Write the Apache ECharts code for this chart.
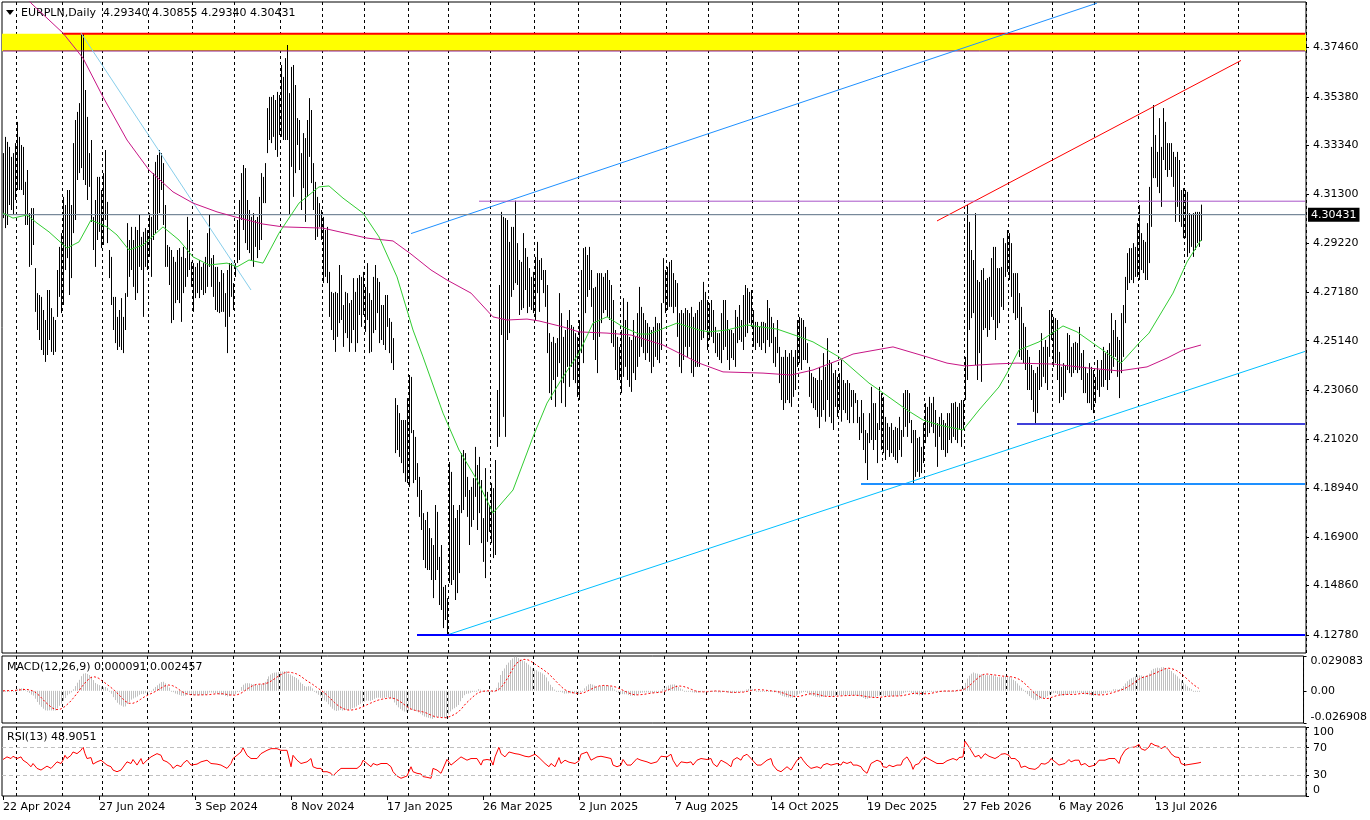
<!DOCTYPE html>
<html><head><meta charset="utf-8">
<script src="https://cdn.jsdelivr.net/npm/echarts@6.0.0/dist/echarts.min.js"></script>
<style>html,body{margin:0;padding:0;background:#fff}#c{width:1370px;height:820px}</style>
</head><body><div id="c"></div>
<script>
const symbolTitle = 'EURPLN,Daily';
const lastBar = {open: 4.29340, high: 4.30855, low: 4.29340, close: 4.30431};
const macdLegend = 'MACD(12,26,9) 0.000091 0.002457';
const rsiLegend = 'RSI(13) 48.9051';
const tickLabels = ['22 Apr 2024','27 Jun 2024','3 Sep 2024','8 Nov 2024','17 Jan 2025','26 Mar 2025','2 Jun 2025','7 Aug 2025','14 Oct 2025','19 Dec 2025','27 Feb 2026','6 May 2026','13 Jul 2026'];
const priceTicks = [4.12780,4.14860,4.16900,4.18940,4.21020,4.23060,4.25140,4.27180,4.29220,4.31300,4.33340,4.35380,4.37460];
const macdTicks = [-0.026908, 0, 0.029083];
const rsiTicks = [0, 30, 70, 100];
const rsiLevels = [30, 70];

const highs = [
4.3302,4.3370,4.3349,4.3328,4.3286,4.3302,4.3344,4.3433,4.3370,4.3336,
4.3328,4.3181,4.3231,4.3050,4.3071,4.3071,4.2819,4.2714,4.2706,4.2698,
4.2643,4.2601,4.2727,4.2727,4.2651,4.2614,4.2601,4.2811,4.2908,4.2966,
4.3118,4.3084,4.3147,4.3147,4.3084,4.3344,4.3441,4.3475,4.3512,4.3806,
4.3806,4.3567,4.3454,4.3302,4.3357,4.3034,4.3105,4.3202,4.3202,4.3147,
4.3218,4.3315,4.3097,4.2895,4.2866,4.2698,4.2698,4.2614,4.2643,4.2693,
4.2614,4.2714,4.3008,4.2937,4.2992,4.2937,4.2992,4.2979,4.3042,4.2950,
4.2971,4.2987,4.2979,4.3050,4.3034,4.3218,4.3265,4.3294,4.3315,4.3302,
4.3260,4.3084,4.2916,4.2908,4.2895,4.2866,4.2845,4.2895,4.2903,4.2866,
4.2908,4.2861,4.3034,4.2979,4.2845,4.2840,4.2824,4.2840,4.2853,4.2824,
4.2840,4.2866,4.2966,4.3042,4.2861,4.2874,4.2824,4.2824,4.2761,4.2811,
4.2798,4.2714,4.2811,4.2840,4.2840,4.2756,4.2840,4.3021,4.3105,4.3218,
4.3252,4.3239,4.3105,4.3063,4.3034,4.3050,4.3021,4.3034,4.3118,4.3218,
4.3202,4.3260,4.3491,4.3538,4.3538,4.3546,4.3525,4.3559,4.3546,4.3672,
4.3622,4.3701,4.3756,4.3554,4.3664,4.3672,4.3588,4.3449,4.3441,4.3302,
4.3386,4.3365,4.3441,4.3533,4.3483,4.3260,4.3181,4.3118,4.3092,4.3063,
4.3034,4.2979,4.2992,4.2803,4.2719,4.2714,4.2719,4.2714,4.2832,4.2790,
4.2664,4.2719,4.2714,4.2672,4.2685,4.2777,4.2719,4.2777,4.2790,4.2782,
4.2803,4.2740,4.2840,4.2714,4.2685,4.2782,4.2832,4.2777,4.2761,4.2664,
4.2664,4.2706,4.2706,4.2609,4.2593,4.2525,4.2273,4.2244,4.2210,4.2181,
4.2181,4.2181,4.2273,4.2370,4.2362,4.2139,4.2110,4.2000,4.1942,4.1887,
4.1790,4.1761,4.1795,4.1727,4.1685,4.1656,4.1824,4.1795,4.1606,4.1656,
4.1480,4.1488,4.1433,4.2005,4.1963,4.1824,4.1769,4.1803,4.1824,4.2042,
4.2055,4.2042,4.1942,4.1887,4.1900,4.1937,4.2068,4.1992,4.2026,4.1929,
4.1769,4.1979,4.1879,4.1824,4.1916,4.1895,4.2013,4.2307,4.2748,4.3055,
4.3034,4.3029,4.3021,4.2929,4.2992,4.2992,4.3102,4.2924,4.2853,4.2845,
4.2966,4.2903,4.2866,4.2819,4.2782,4.2803,4.2866,4.2929,4.2853,4.2861,
4.2811,4.2811,4.2748,4.2546,4.2509,4.2530,4.2504,4.2525,4.2714,4.2630,
4.2530,4.2559,4.2601,4.2643,4.2580,4.2572,4.2546,4.2530,4.2601,4.2811,
4.2903,4.2908,4.2874,4.2908,4.2811,4.2735,4.2740,4.2798,4.2798,4.2798,
4.2782,4.2798,4.2811,4.2769,4.2748,4.2685,4.2559,4.2530,4.2488,4.2559,
4.2693,4.2601,4.2677,4.2530,4.2517,4.2601,4.2530,4.2630,4.2740,4.2656,
4.2630,4.2601,4.2588,4.2572,4.2559,4.2572,4.2614,4.2588,4.2588,4.2672,
4.2861,4.2811,4.2824,4.2845,4.2853,4.2798,4.2769,4.2756,4.2630,4.2643,
4.2630,4.2651,4.2643,4.2630,4.2656,4.2614,4.2630,4.2643,4.2677,4.2685,
4.2761,4.2719,4.2685,4.2672,4.2685,4.2643,4.2572,4.2546,4.2546,4.2630,
4.2685,4.2685,4.2601,4.2559,4.2559,4.2546,4.2643,4.2614,4.2664,4.2601,
4.2706,4.2748,4.2735,4.2719,4.2727,4.2643,4.2593,4.2593,4.2572,4.2593,
4.2593,4.2588,4.2685,4.2651,4.2614,4.2588,4.2530,4.2601,4.2488,4.2446,
4.2446,4.2475,4.2446,4.2462,4.2475,4.2446,4.2475,4.2601,4.2614,4.2609,
4.2601,4.2572,4.2504,4.2404,4.2378,4.2362,4.2357,4.2349,4.2404,4.2349,
4.2462,4.2404,4.2525,4.2433,4.2420,4.2378,4.2391,4.2362,4.2378,4.2433,
4.2349,4.2336,4.2349,4.2336,4.2307,4.2307,4.2294,4.2265,4.2194,4.2265,
4.2210,4.2139,4.2126,4.2210,4.2320,4.2252,4.2252,4.2168,4.2320,4.2294,
4.2278,4.2194,4.2168,4.2152,4.2168,4.2139,4.2152,4.2147,4.2194,4.2139,
4.2294,4.2307,4.2307,4.2294,4.2181,4.2139,4.2139,4.2105,4.2110,4.2068,
4.2168,4.2252,4.2236,4.2278,4.2252,4.2278,4.2223,4.2168,4.2194,4.2210,
4.2181,4.2168,4.2210,4.2210,4.2252,4.2252,4.2257,4.2236,4.2252,4.2265,
4.2265,4.2446,4.3084,4.3013,4.2895,4.2853,4.3050,4.2769,4.2761,4.2811,
4.2819,4.2769,4.2777,4.2782,4.2861,4.2908,4.2908,4.2819,4.2819,4.2824,
4.2945,4.2924,4.2979,4.2966,4.2924,4.2798,4.2798,4.2798,4.2714,4.2656,
4.2588,4.2572,4.2475,4.2446,4.2412,4.2391,4.2378,4.2404,4.2475,4.2546,
4.2488,4.2517,4.2488,4.2643,4.2643,4.2614,4.2609,4.2601,4.2467,4.2404,
4.2420,4.2412,4.2546,4.2538,4.2488,4.2504,4.2509,4.2504,4.2572,4.2462,
4.2475,4.2404,4.2378,4.2420,4.2404,4.2391,4.2362,4.2433,4.2391,4.2433,
4.2488,4.2462,4.2475,4.2504,4.2630,4.2559,4.2601,4.2530,4.2517,4.2630,
4.2664,4.2782,4.2882,4.2903,4.2903,4.2924,4.2908,4.3008,4.3084,4.2966,
4.2937,4.2929,4.3008,4.3160,4.3328,4.3504,4.3378,4.3307,4.3449,4.3328,
4.3491,4.3433,4.3344,4.3344,4.3344,4.3307,4.3286,4.3307,4.3273,4.3147,
4.3155,4.3147,4.3139,4.3050,4.3042,4.3050,4.3055,4.3055,4.3055,4.30855
];
const lows = [
4.3029,4.2987,4.3000,4.3084,4.3063,4.3042,4.3105,4.3147,4.3147,4.3147,
4.3126,4.3000,4.3000,4.2824,4.2832,4.2916,4.2635,4.2559,4.2517,4.2475,
4.2454,4.2425,4.2454,4.2517,4.2467,4.2454,4.2467,4.2614,4.2698,4.2630,
4.2664,4.2811,4.2861,4.2706,4.2777,4.2966,4.3021,4.3189,4.3218,4.3239,
4.3189,4.3168,4.3105,4.3160,4.3013,4.2895,4.2824,4.2937,4.2971,4.2903,
4.2916,4.3021,4.2924,4.2777,4.2664,4.2559,4.2504,4.2475,4.2488,4.2475,
4.2462,4.2559,4.2698,4.2782,4.2811,4.2740,4.2685,4.2714,4.2824,4.2811,
4.2614,4.2824,4.2811,4.2866,4.2782,4.2937,4.2966,4.2979,4.3050,4.3147,
4.3000,4.2824,4.2824,4.2748,4.2588,4.2601,4.2672,4.2685,4.2672,4.2593,
4.2714,4.2740,4.2782,4.2811,4.2740,4.2635,4.2693,4.2714,4.2693,4.2727,
4.2706,4.2714,4.2740,4.2824,4.2740,4.2698,4.2643,4.2635,4.2630,4.2635,
4.2635,4.2572,4.2462,4.2614,4.2698,4.2643,4.2782,4.2840,4.2853,4.3021,
4.2979,4.2924,4.2895,4.2882,4.2853,4.2824,4.2908,4.2861,4.2895,4.2937,
4.3092,4.3092,4.3302,4.3357,4.3344,4.3370,4.3315,4.3286,4.3378,4.3370,
4.3357,4.3357,4.3357,4.3042,4.3244,4.3118,4.3218,4.3336,4.3231,4.3063,
4.3155,4.3013,4.3118,4.3286,4.3176,4.3063,4.2937,4.2950,4.2992,4.2937,
4.2756,4.2782,4.2756,4.2614,4.2559,4.2517,4.2467,4.2530,4.2588,4.2601,
4.2488,4.2546,4.2525,4.2467,4.2504,4.2559,4.2467,4.2504,4.2622,4.2572,
4.2622,4.2551,4.2601,4.2462,4.2467,4.2546,4.2559,4.2630,4.2504,4.2517,
4.2496,4.2475,4.2572,4.2462,4.2420,4.2391,4.2042,4.2055,4.2026,4.2000,
4.1958,4.1921,4.1916,4.1900,4.2126,4.1916,4.1929,4.1858,4.1774,4.1719,
4.1593,4.1559,4.1551,4.1551,4.1509,4.1433,4.1509,4.1551,4.1404,4.1383,
4.1307,4.1341,4.1278,4.1496,4.1488,4.1509,4.1425,4.1454,4.1538,4.1790,
4.1803,4.1858,4.1774,4.1656,4.1732,4.1761,4.1858,4.1719,4.1790,4.1664,
4.1585,4.1517,4.1669,4.1711,4.1664,4.1601,4.1614,4.2068,4.2110,4.2538,
4.2194,4.2110,4.2517,4.2546,4.2698,4.2727,4.2756,4.2748,4.2622,4.2643,
4.2651,4.2727,4.2630,4.2656,4.2643,4.2630,4.2601,4.2714,4.2635,4.2769,
4.2714,4.2656,4.2462,4.2294,4.2265,4.2349,4.2236,4.2362,4.2420,4.2252,
4.2336,4.2236,4.2404,4.2320,4.2404,4.2349,4.2336,4.2278,4.2265,4.2462,
4.2420,4.2630,4.2698,4.2727,4.2656,4.2517,4.2433,4.2378,4.2530,4.2588,
4.2630,4.2643,4.2614,4.2601,4.2504,4.2488,4.2391,4.2349,4.2349,4.2294,
4.2362,4.2404,4.2349,4.2320,4.2299,4.2378,4.2349,4.2404,4.2446,4.2488,
4.2462,4.2433,4.2462,4.2425,4.2378,4.2404,4.2446,4.2433,4.2420,4.2475,
4.2672,4.2630,4.2643,4.2656,4.2656,4.2630,4.2656,4.2530,4.2404,4.2378,
4.2433,4.2488,4.2446,4.2488,4.2378,4.2362,4.2404,4.2404,4.2404,4.2517,
4.2525,4.2559,4.2475,4.2517,4.2530,4.2504,4.2462,4.2446,4.2433,4.2420,
4.2475,4.2488,4.2433,4.2391,4.2441,4.2433,4.2404,4.2504,4.2517,4.2509,
4.2475,4.2530,4.2546,4.2588,4.2572,4.2488,4.2475,4.2504,4.2488,4.2475,
4.2504,4.2462,4.2517,4.2488,4.2504,4.2420,4.2404,4.2462,4.2336,4.2265,
4.2223,4.2252,4.2265,4.2252,4.2236,4.2278,4.2307,4.2404,4.2420,4.2391,
4.2433,4.2433,4.2420,4.2278,4.2252,4.2231,4.2223,4.2194,4.2147,4.2194,
4.2223,4.2174,4.2265,4.2194,4.2168,4.2139,4.2236,4.2194,4.2223,4.2174,
4.2223,4.2210,4.2181,4.2168,4.2236,4.2168,4.2252,4.2168,4.2097,4.2126,
4.2055,4.2000,4.1929,4.2084,4.2097,4.2055,4.2097,4.2000,4.2139,4.2055,
4.2042,4.2013,4.2055,4.2026,4.2042,4.2026,4.2013,4.2000,4.2055,4.2026,
4.2110,4.2152,4.2110,4.2168,4.2084,4.1912,4.1942,4.1963,4.1942,4.1958,
4.2000,4.2084,4.2110,4.2126,4.2152,4.2126,4.2068,4.1984,4.2110,4.2055,
4.2055,4.2026,4.2042,4.2097,4.2084,4.2110,4.2097,4.2084,4.2139,4.2068,
4.2139,4.2265,4.2349,4.2559,4.2609,4.2630,4.2412,4.2349,4.2462,4.2341,
4.2559,4.2567,4.2530,4.2559,4.2614,4.2601,4.2517,4.2567,4.2588,4.2656,
4.2643,4.2782,4.2803,4.2769,4.2698,4.2630,4.2601,4.2609,4.2446,4.2433,
4.2420,4.2391,4.2307,4.2307,4.2265,4.2215,4.2168,4.2210,4.2307,4.2320,
4.2362,4.2336,4.2307,4.2446,4.2517,4.2404,4.2420,4.2349,4.2252,4.2278,
4.2265,4.2294,4.2391,4.2378,4.2362,4.2378,4.2391,4.2378,4.2391,4.2349,
4.2294,4.2294,4.2252,4.2252,4.2223,4.2210,4.2252,4.2307,4.2278,4.2320,
4.2320,4.2349,4.2307,4.2349,4.2378,4.2404,4.2446,4.2362,4.2273,4.2378,
4.2446,4.2588,4.2727,4.2756,4.2769,4.2756,4.2782,4.2782,4.2769,4.2811,
4.2798,4.2769,4.2769,4.2840,4.2992,4.3197,4.3197,4.3160,4.3134,4.3076,
4.3273,4.3231,4.3202,4.3231,4.3202,4.3160,4.3013,4.3076,4.3013,4.2992,
4.2945,4.2945,4.2866,4.2882,4.2908,4.2866,4.2895,4.2924,4.2908,4.2934
];

// moving averages: [bar index, price]
const maFast = [[0,4.3050],[5,4.3029],[12,4.3042],[17,4.3008],[23,4.2971],[32,4.2903],[38,4.2929],[44,4.3021],[52,4.2992],[57,4.2958],[63,4.2895],[70,4.2916],[80,4.2992],[88,4.2937],[95,4.2866],[103,4.2832],[112,4.2840],[117,4.2824],[123,4.2853],[130,4.2840],[138,4.2966],[148,4.3092],[158,4.3160],[163,4.3164],[170,4.3113],[180,4.3050],[188,4.2950],[197,4.2782],[205,4.2559],[210,4.2446],[220,4.2210],[228,4.2055],[237,4.1929],[245,4.1790],[255,4.1887],[265,4.2110],[272,4.2252],[280,4.2362],[288,4.2462],[295,4.2588],[302,4.2614],[310,4.2572],[318,4.2542],[323,4.2542],[337,4.2588],[348,4.2559],[353,4.2551],[362,4.2559],[372,4.2580],[387,4.2563],[397,4.2534],[405,4.2509],[418,4.2446],[433,4.2336],[438,4.2307],[452,4.2223],[460,4.2181],[468,4.2160],[480,4.2139],[488,4.2223],[498,4.2320],[502,4.2378],[508,4.2475],[518,4.2509],[530,4.2576],[537,4.2551],[552,4.2462],[559,4.2420],[568,4.2504],[573,4.2546],[585,4.2714],[592,4.2845],[599,4.2937]];
const maSlow = [[11,4.3962],[14,4.3932],[30,4.3806],[40,4.3701],[50,4.3538],[62,4.3357],[73,4.3231],[85,4.3139],[95,4.3092],[107,4.3055],[116,4.3034],[130,4.3004],[140,4.2992],[160,4.2987],[182,4.2945],[195,4.2933],[204,4.2878],[214,4.2811],[222,4.2769],[234,4.2714],[245,4.2614],[252,4.2601],[262,4.2605],[268,4.2597],[280,4.2572],[288,4.2551],[302,4.2546],[314,4.2538],[330,4.2496],[348,4.2420],[360,4.2383],[380,4.2378],[394,4.2370],[405,4.2391],[418,4.2433],[425,4.2458],[445,4.2488],[462,4.2446],[472,4.2420],[481,4.2408],[495,4.2416],[507,4.2420],[525,4.2416],[543,4.2399],[558,4.2387],[572,4.2404],[582,4.2441],[590,4.2475],[599,4.2496]];

// RSI(13): [bar index, value]
const rsiRead = [[0,52.9],[2,56.7],[4,54.3],[5,57.6],[7,54.3],[9,56.7],[10,51.9],[12,48.1],[13,46.2],[14,42.4],[15,47.1],[17,40],[19,37.6],[20,37.6],[22,43.3],[24,40],[25,38.6],[27,49.5],[29,47.1],[30,51.9],[31,59],[32,54.3],[34,59],[35,63.8],[37,61.4],[39,66.2],[40,71],[41,61.4],[42,54.3],[44,55.7],[45,46.2],[47,49.5],[49,51.9],[50,51],[52,44.8],[54,42.4],[55,37.6],[57,35.2],[59,37.6],[60,40],[62,49.5],[64,47.1],[65,52.9],[67,44.8],[69,54.3],[70,46.2],[72,51.9],[74,56.7],[75,59],[77,61.4],[79,59],[80,51.9],[82,49.5],[84,44.8],[85,40],[87,44.8],[89,42.4],[90,47.1],[92,51.9],[94,44.8],[95,47.1],[97,46.2],[99,49.5],[100,48.1],[102,51.9],[104,47.1],[105,44.8],[107,46.2],[109,44.8],[110,42.4],[112,40],[114,47.1],[115,54.3],[117,59],[119,63.8],[120,70],[122,59],[124,54.3],[125,56.7],[127,54.3],[129,61.4],[130,63.8],[132,66.2],[134,68.6],[135,71],[137,68.6],[139,66.2],[140,68.6],[142,66.2],[144,42.4],[145,59],[147,51.9],[149,47.1],[150,44.8],[152,49.5],[154,54.3],[155,42.4],[157,40],[159,40],[160,35.2],[162,35.2],[164,32.9],[165,29],[167,35.2],[169,40],[170,37.6],[172,40],[174,40],[175,42.4],[177,40],[179,44.8],[180,51.9],[182,47.1],[184,42.4],[185,47.1],[187,44.8],[189,47.1],[190,44.8],[192,47.1],[194,42.4],[195,35.2],[197,29],[199,25.7],[200,28.1],[202,29],[204,42.4],[205,35.2],[207,32.9],[209,31.9],[210,28.1],[212,27.1],[214,25.7],[215,40],[217,37.6],[219,32.9],[220,30.5],[222,52.9],[224,44.8],[225,47.1],[227,51.9],
[229,56.7],[230,54.3],[232,51.9],[234,54.3],[235,52.9],[237,54.3],[239,44.8],[240,51.9],[242,52.9],[244,51.9],[245,44.8],[246,56.7],[248,71],[249,61.4],[251,56.7],[253,63.8],[254,63.8],[256,61.4],[258,60.5],[259,61.4],[261,57.6],[263,56.7],[264,55.7],[266,60.5],[268,55.7],[269,52.9],[271,47.1],[273,42.4],[274,47.1],[276,42.4],[278,55.7],[279,47.1],[281,51.9],[283,49],[284,51],[286,47.1],[288,51],[289,60.5],[292,63.8],[294,51.9],[295,49.5],[297,56.7],[299,57.6],[300,55.7],[302,55.7],[304,54.3],[305,44.8],[307,42.4],[309,44.8],[310,52.9],[312,44.8],[314,44.8],[315,47.1],[317,54.3],[319,51.9],[320,54.3],[322,49.5],[324,47.1],[325,44.8],[327,49.5],[329,57.6],[330,59],[332,56.7],[334,60.5],[335,51.9],[337,42.4],[339,49.5],[340,51.9],[342,48.1],[344,49.5],[345,44.8],[347,51.9],[349,54.3],[350,54.3],[352,52.9],[354,54.3],[355,47.1],[357,42.4],[359,51.9],[360,49.5],[362,47.1],[364,42.4],[365,51.9],[367,55.7],[369,51.9],[370,57.6],[372,60.5],[374,54.3],[375,55.7],[377,44.8],[379,44.8],[380,44.8],[382,51.9],[384,54.3],[385,44.8],[387,37.6],[389,35.2],[390,32.9],[392,42.4],[394,37.6],[395,42.4],[397,51.9],[399,56.7],[400,51.9],[402,44.8],[404,40],[405,40],[407,42.4],[409,40],[410,44.8],[412,47.1],[414,44.8],[415,42.4],[417,47.1],[419,44.8],[420,49.5],[422,47.1],[424,49.5],[425,44.8],[427,44.8],[429,42.4],[430,37.6],[432,32.9],[434,47.1],[435,44.8],[437,51.9],[439,49.5],
[440,42.4],[442,41.4],[443,44.8],[445,42.4],[447,44.8],[449,44.8],[450,51.9],[452,56.7],[454,47.1],[455,38.6],[456,44.8],[457,42.4],[458,47.1],[459,51.9],[461,56.7],[462,57.6],[464,51.9],[465,54.3],[467,47.1],[468,49.5],[470,47.1],[472,51],[473,52.9],[475,54.3],[477,51.9],[478,55.7],[480,56.7],[481,79.5],[483,71],[484,66.2],[486,56.7],[488,59],[489,54.3],[491,61.4],[493,57.6],[494,59],[496,54.3],[498,57.6],[499,60.5],[501,61.4],[503,59],[504,54.3],[506,54.3],[508,49.5],[509,41.4],[511,43.3],[513,40],[514,41.4],[516,38.6],[518,42.4],[519,47.1],[521,46.2],[523,49.5],[524,54.3],[526,49.5],[528,44.8],[529,42.4],[531,47.1],[533,52.9],[534,49.5],[536,51.9],[538,51.9],[539,44.8],[541,47.1],[543,42.4],[544,40],[546,44.8],[548,51.9],[549,49.5],[551,51.9],[553,54.3],[554,56.7],[556,54.3],[558,47.1],[559,56.7],[561,66.2],[563,70],[564,70],[566,71],[568,74.8],[569,68.6],[571,66.2],[573,71],[574,76.7],[576,73.3],[578,71.9],[579,68.6],[581,71.9],[583,66.2],[584,61.4],[586,56.7],[588,55.7],[589,47.1],[591,44.8],[593,45.7],[594,44.8],[596,47.1],[598,48.1],[599,48.9]];

// drawn objects: [bar index, price]
const downTrend = [[39,4.3806],[124,4.2727]];
const upperChannel = [[204,4.2964],[547,4.3932]];
const lowerChannel = [[222,4.1278],[651,4.2469]];
const redTrend = [[467,4.3017],[619,4.3691]];
const levelLow = [[207,4.1278],[651,4.1278]];
const levelMid = [[429,4.1912],[651,4.1912]];
const levelHigh = [[507,4.2164],[651,4.2164]];
const levelResist = [[238,4.3100],[651,4.3100]];
const zoneTopLine = [[30,4.3803],[651,4.3803]];
const zoneBottomLine = [[0,4.3731],[651,4.3731]];
const zone = [4.3731, 4.3803];

// ---------- categories (weekdays, broker skips 25 Dec & 1 Jan; future slots use calendar days)
const SLOTS = 652, LAST_SEPARATOR = 630;
const MONTHS = ['Jan','Feb','Mar','Apr','May','Jun','Jul','Aug','Sep','Oct','Nov','Dec'];
const dates = [], monthStart = new Set();
(function(){
  let d = Date.UTC(2024,3,22), prevM = -1;
  while (dates.length < SLOTS) {
    const dt = new Date(d), wd = dt.getUTCDay(), m = dt.getUTCMonth(), day = dt.getUTCDate();
    const hol = (m===11 && day===25) || (m===0 && day===1);
    const future = dates.length >= highs.length;
    if (future || (wd!==0 && wd!==6 && !hol)) {
      if (prevM !== -1 && m !== prevM && dates.length < LAST_SEPARATOR) monthStart.add(dates.length);
      prevM = m;
      dates.push(day + ' ' + MONTHS[m] + ' ' + dt.getUTCFullYear());
    }
    d += 86400000;
  }
})();
const labelIdx = new Set(tickLabels.map(t => dates.indexOf(t)));

// ---------- MACD from median price
const median = highs.map((h,i) => (h + lows[i]) / 2);
function ema(a, n){ const k = 2/(n+1); const o=[]; let e=a[0]; a.forEach((v,i)=>{ e = i===0 ? v : e + k*(v-e); o.push(e); }); return o; }
const e12 = ema(median,12), e26 = ema(median,26);
const macd = median.map((_,i) => e12[i]-e26[i]);
const signal = macd.map((_,i) => { const s = Math.max(0,i-8); let t=0; for(let j=s;j<=i;j++) t+=macd[j]; return t/(i-s+1); });

// ---------- chart
const FONT = 'DejaVu Sans';
const chart = echarts.init(document.getElementById('c'), null, {renderer:'canvas'});
function vline(color){
  return function(params, api){
    const i = api.value(0);
    const a = api.coord([i, api.value(1)]), b = api.coord([i, api.value(2)]);
    const x = Math.round(a[0]) + 0.5;
    let y1 = a[1], y2 = b[1]; if (Math.abs(y2-y1) < 1) y2 = y1 + 1;
    return {type:'line', shape:{x1:x,y1:y1,x2:x,y2:y2}, style:{stroke:color, lineWidth:1}};
  };
}
const grids = [
  {left:2, top:2, width:1304, height:651},
  {left:2, top:656, width:1304, height:67},
  {left:2, top:727, width:1304, height:69}
].map(g => Object.assign(g, {show:true, borderColor:'#000', borderWidth:1, backgroundColor:'transparent'}));
const split = {show:true, interval:(i)=>monthStart.has(i), lineStyle:{color:'#000', width:1, type:[3,3]}};
const xAxes = [0,1,2].map(g => ({
  type:'category', gridIndex:g, data:dates, boundaryGap:true,
  axisLine:{show:false}, splitLine:split,
  axisTick: g===2 ? {show:true, interval:(i)=>labelIdx.has(i), alignWithLabel:true, length:4, lineStyle:{color:'#000'}} : {show:false},
  axisLabel: g===2 ? {show:true, interval:(i)=>labelIdx.has(i), align:'left', color:'#000', fontFamily:FONT, fontSize:11, margin:6} : {show:false}
}));
const yLabel = {color:'#000', fontFamily:FONT, fontSize:11, margin:7};
const yAxes = [
  {gridIndex:0, type:'value', position:'right', min:4.12024, max:4.39366, axisLine:{show:false}, splitLine:{show:false},
   axisTick:{show:true, length:3, customValues:priceTicks, lineStyle:{color:'#000'}},
   axisLabel:Object.assign({customValues:priceTicks, formatter:v=>v.toFixed(5)}, yLabel)},
  {gridIndex:1, type:'value', position:'right', min:macdTicks[0], max:macdTicks[2], axisLine:{show:false}, splitLine:{show:false},
   axisTick:{show:true, length:3, customValues:macdTicks, lineStyle:{color:'#000'}},
   axisLabel:Object.assign({customValues:macdTicks, formatter:v=> v===0 ? '0.00' : v.toFixed(6), verticalAlignMinLabel:'bottom', verticalAlignMaxLabel:'top'}, yLabel)},
  {gridIndex:2, type:'value', position:'right', min:0, max:100, axisLine:{show:false}, splitLine:{show:false},
   axisTick:{show:true, length:3, customValues:rsiTicks, lineStyle:{color:'#000'}},
   axisLabel:Object.assign({customValues:rsiTicks, formatter:v=>String(v), verticalAlignMinLabel:'bottom', verticalAlignMaxLabel:'top'}, yLabel)}
];
function seg(name, data, color, width, z){
  return {name, type:'line', xAxisIndex:0, yAxisIndex:0, data, symbol:'none', silent:true, clip:true, z:z||4,
    lineStyle:{color, width}};
}
const lastLine = seg('lastPrice', [[0,lastBar.close],[651,lastBar.close]], '#778899', 1, 2);
lastLine.markLine = {silent:true, symbol:'none', animation:false, precision:5, lineStyle:{color:'#778899', width:1, type:'solid'},
  label:{show:true, position:'end', distance:2, formatter:lastBar.close.toFixed(5), backgroundColor:'#000', color:'#fff',
    fontFamily:FONT, fontSize:11, padding:[2,3,1,3]},
  data:[{yAxis:lastBar.close}]};
const series = [
  {type:'line', xAxisIndex:0, yAxisIndex:0, data:[[0, zone[0]]], symbol:'none', silent:true, z:-1, lineStyle:{width:0},
   markArea:{silent:true, itemStyle:{color:'#ffff00'}, data:[[{yAxis:zone[0]},{yAxis:zone[1]}]]}},
  seg('zoneTop', zoneTopLine, '#ff0000', 2),
  seg('zoneBottom', zoneBottomLine, '#800080', 1),
  lastLine,
  {type:'custom', xAxisIndex:0, yAxisIndex:0, renderItem:vline('#000'), clip:true, silent:true, z:3,
   encode:{x:0, y:[1,2]}, data: highs.map((h,i)=>[i,h,lows[i]])},
  seg('maSlow', maSlow, '#c71585', 1, 5),
  seg('maFast', maFast, '#32cd32', 1, 5),
  seg('downTrend', downTrend, '#87ceeb', 1),
  seg('upperChannel', upperChannel, '#1e90ff', 1),
  seg('lowerChannel', lowerChannel, '#00bfff', 1),
  seg('redTrend', redTrend, '#ff0000', 1),
  seg('levelLow', levelLow, '#0000ff', 2),
  seg('levelMid', levelMid, '#1e90ff', 2),
  seg('levelHigh', levelHigh, '#0000cd', 1.5),
  seg('levelResist', levelResist, '#a855c8', 1),
  {type:'custom', xAxisIndex:1, yAxisIndex:1, renderItem:vline('#c0c0c0'), clip:true, silent:true, z:3,
   encode:{x:0, y:[1,2]}, data: macd.map((v,i)=>[i,0,v])},
  {type:'line', xAxisIndex:1, yAxisIndex:1, data: signal.map((v,i)=>[i,v]), symbol:'none', silent:true, z:4,
   lineStyle:{color:'#ff0000', width:1, type:[2,2]}},
  {type:'line', xAxisIndex:2, yAxisIndex:2, data: rsiRead, symbol:'none', silent:true, z:4,
   lineStyle:{color:'#ff0000', width:1},
   markLine:{silent:true, symbol:'none', label:{show:false}, lineStyle:{color:'#c0c0c0', width:1, type:[4,3]},
     data: rsiLevels.map(v=>({yAxis:v}))}}
];
const graphic = [
  {type:'polygon', shape:{points:[[6,10],[14,10],[10,15]]}, style:{fill:'#000'}},
  {type:'text', x:21, y:13, style:{text: symbolTitle + '  ' + [lastBar.open,lastBar.high,lastBar.low,lastBar.close].map(v=>v.toFixed(5)).join(' '), font:'11px "DejaVu Sans"', fill:'#000', verticalAlign:'middle'}},
  {type:'text', x:7, y:667, style:{text: macdLegend, font:'11px "DejaVu Sans"', fill:'#000', verticalAlign:'middle'}},
  {type:'text', x:7, y:737, style:{text: rsiLegend, font:'11px "DejaVu Sans"', fill:'#000', verticalAlign:'middle'}}
];
chart.setOption({animation:false, backgroundColor:'#fff', grid:grids, xAxis:xAxes, yAxis:yAxes, series, graphic});
</script></body></html>
